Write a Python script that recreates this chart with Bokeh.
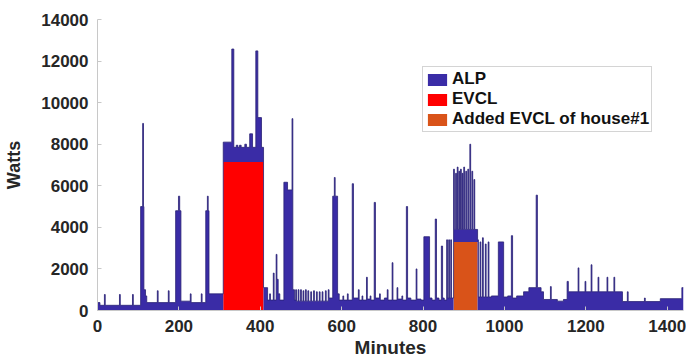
import numpy as np
from bokeh.plotting import figure
from bokeh.models import Range1d, FixedTicker, Legend, LegendItem, ColumnDataSource
from bokeh.embed import file_html
from bokeh.resources import INLINE

# ---- data (step series: value holds from each breakpoint minute to the next) ----
alp_minutes = [0, 6, 17, 19, 54, 56, 86, 88, 106, 111, 113, 114, 118, 121, 147, 149, 174, 176,
               192, 199, 202, 205, 228, 230, 255, 257, 266, 270, 272, 274,
               309, 330, 335, 341, 345, 349, 353, 362, 366, 374, 381, 389, 394, 403,
               408, 418, 423, 425, 432, 434, 439, 441, 444, 448, 458, 467, 478, 480, 484,
               487, 489, 493, 495, 499, 501, 505, 507, 511, 513, 517, 519, 524, 526, 531, 533,
               538, 540, 545, 547, 552, 554, 560, 562, 567, 569,
               578, 582, 584, 590, 594, 603, 605, 614, 616, 626, 629, 641, 643, 650, 652,
               661, 663, 670, 672, 680, 683, 693, 695, 705, 712, 714, 724, 726, 736, 738,
               748, 750, 759, 762, 770, 783, 785, 795, 802, 816, 822, 830, 833, 839, 845,
               848, 852, 858, 860, 863, 865, 868, 870,
               875, 877, 880, 882, 884, 886, 888, 890, 892, 894, 896, 898, 900, 902, 905,
               907, 910, 912, 915, 917, 920, 922, 925, 927,
               934, 936, 940, 942, 946, 948, 953, 955, 960, 962, 968, 985, 998, 1008, 1017,
               1020, 1030, 1047, 1060, 1078, 1081, 1090, 1096, 1113, 1115, 1130, 1145,
               1154, 1157, 1181, 1183, 1198, 1200, 1213, 1215, 1230, 1232, 1252, 1254,
               1269, 1271, 1290, 1302, 1304, 1344, 1346, 1383, 1436]
alp_watts = [380, 250, 770, 250, 770, 250, 770, 250, 5000, 9000, 5000, 1000, 700, 380, 950, 380, 950, 380,
             4800, 5500, 4800, 450, 800, 380, 800, 380, 4800, 5500, 4800, 800,
             950, 5430, 700, 800, 700, 800, 700, 850, 700, 1350, 700, 5340, 2130, 700,
             1100, 500, 800, 500, 1800, 500, 2700, 1500, 800, 500, 6170, 5800, 9230, 1000, 500,
             1000, 450, 1000, 450, 1000, 450, 950, 450, 1000, 450, 950, 450, 900, 450, 950, 450,
             900, 450, 900, 450, 900, 450, 950, 450, 1000, 600,
             5500, 6400, 5500, 800, 500, 700, 500, 800, 500, 6100, 600, 1000, 500, 700, 500,
             1600, 550, 700, 500, 5200, 600, 800, 500, 600, 1000, 500, 2300, 500, 1100, 550,
             700, 500, 5000, 600, 500, 2000, 550, 500, 3550, 600, 500, 4400, 600, 500, 3100,
             600, 500, 3400, 600, 3400, 600, 3400, 600,
             3500, 600, 3300, 600, 3600, 600, 3400, 600, 3500, 600, 3300, 600, 3600, 600, 3400,
             600, 3500, 600, 4700, 600, 3400, 600, 3000, 600,
             3400, 650, 3300, 650, 3500, 650, 3200, 650, 3300, 650, 700, 3300, 650, 700, 3600,
             600, 700, 900, 1100, 5550, 1100, 900, 530, 1150, 530, 450, 530,
             1400, 900, 2050, 900, 1400, 900, 2200, 900, 1600, 900, 1600, 900,
             1600, 900, 430, 900, 430, 600, 430, 570, 1100]

evcl_minutes = [0, 309, 408]
evcl_watts = [0, 7150, 0]

added_minutes = [0, 875, 934]
added_watts = [0, 3300, 0]

end_minute = 1440
x_ticks = [0, 200, 400, 600, 800, 1000, 1200, 1400]
y_ticks = [0, 2000, 4000, 6000, 8000, 10000, 12000, 14000]

# ---- evaluate step series on a common set of breakpoints ----
xs = np.array(sorted(set(alp_minutes + evcl_minutes + added_minutes + [end_minute])), dtype=float)

def hold(mins, vals):
    mins = np.asarray(mins, dtype=float)
    vals = np.asarray(vals, dtype=float)
    idx = np.searchsorted(mins, xs, side="right") - 1
    return vals[idx]

alp = hold(alp_minutes, alp_watts)
evcl = hold(evcl_minutes, evcl_watts)
added = hold(added_minutes, added_watts)

evcl_top = evcl
added_top = evcl + added
alp_top = added_top + alp

src = ColumnDataSource(dict(x=xs, zero=np.zeros_like(xs), evcl_top=evcl_top,
                            added_top=added_top, alp_top=alp_top))

BLUE = "#3a2ca6"
RED = "#ff0000"
ORANGE = "#d95319"
FONT = "Liberation Sans"
TXT = "#262626"

p = figure(width=686, height=360, x_range=Range1d(0, 1440), y_range=Range1d(0, 14000),
           output_backend="svg", toolbar_location=None,
           min_border_left=97, min_border_right=3, min_border_top=19, min_border_bottom=49)
p.outline_line_color = None
p.grid.visible = False
p.background_fill_color = "white"
p.border_fill_color = "white"

r_evcl = p.varea_step(x="x", y1="zero", y2="evcl_top", step_mode="after", source=src,
                      fill_color=RED)
r_added = p.varea_step(x="x", y1="evcl_top", y2="added_top", step_mode="after", source=src,
                       fill_color=ORANGE)
r_alp = p.varea_step(x="x", y1="added_top", y2="alp_top", step_mode="after", source=src,
                     fill_color=BLUE)
p.step(x="x", y="alp_top", mode="after", source=src, line_color="#2a2275", line_width=0.8)

# axes
for ax in (p.xaxis[0], p.yaxis[0]):
    ax.major_label_text_font = FONT
    ax.major_label_text_font_style = "bold"
    ax.major_label_text_font_size = "17px"
    ax.major_label_text_color = TXT
    ax.axis_label_text_font = FONT
    ax.axis_label_text_font_style = "bold"
    ax.axis_label_text_color = TXT
    ax.axis_line_color = "#c8c8c8"
    ax.major_tick_line_color = "#c8c8c8"
    ax.major_tick_in = 4
    ax.major_tick_out = 0
    ax.minor_tick_line_color = None

p.xaxis.ticker = FixedTicker(ticks=x_ticks)
p.yaxis.ticker = FixedTicker(ticks=y_ticks)
p.xaxis.axis_label = "Minutes"
p.yaxis.axis_label = "Watts"
p.xaxis.axis_label_text_font_size = "19px"
p.yaxis.axis_label_text_font_size = "18px"
p.xaxis.major_label_standoff = 9
p.yaxis.major_label_standoff = 9
p.xaxis.axis_label_standoff = 2
p.yaxis.axis_label_standoff = 14

legend = Legend(items=[LegendItem(label="ALP", renderers=[r_alp]),
                       LegendItem(label="EVCL", renderers=[r_evcl]),
                       LegendItem(label="Added EVCL of house#1", renderers=[r_added])],
                location=(325, 178))
legend.label_text_font = FONT
legend.label_text_font_style = "bold"
legend.label_text_font_size = "17px"
legend.label_text_color = "#111111"
legend.glyph_width = 24
legend.glyph_height = 15
legend.label_height = 15
legend.label_standoff = 3
legend.spacing = 0
legend.padding = 2
legend.margin = 0
legend.border_line_color = "#aaaaaa"
legend.border_line_width = 1
legend.background_fill_color = "white"
legend.background_fill_alpha = 1.0
p.add_layout(legend, "center")

open("out.html", "w").write(file_html(p, INLINE))
